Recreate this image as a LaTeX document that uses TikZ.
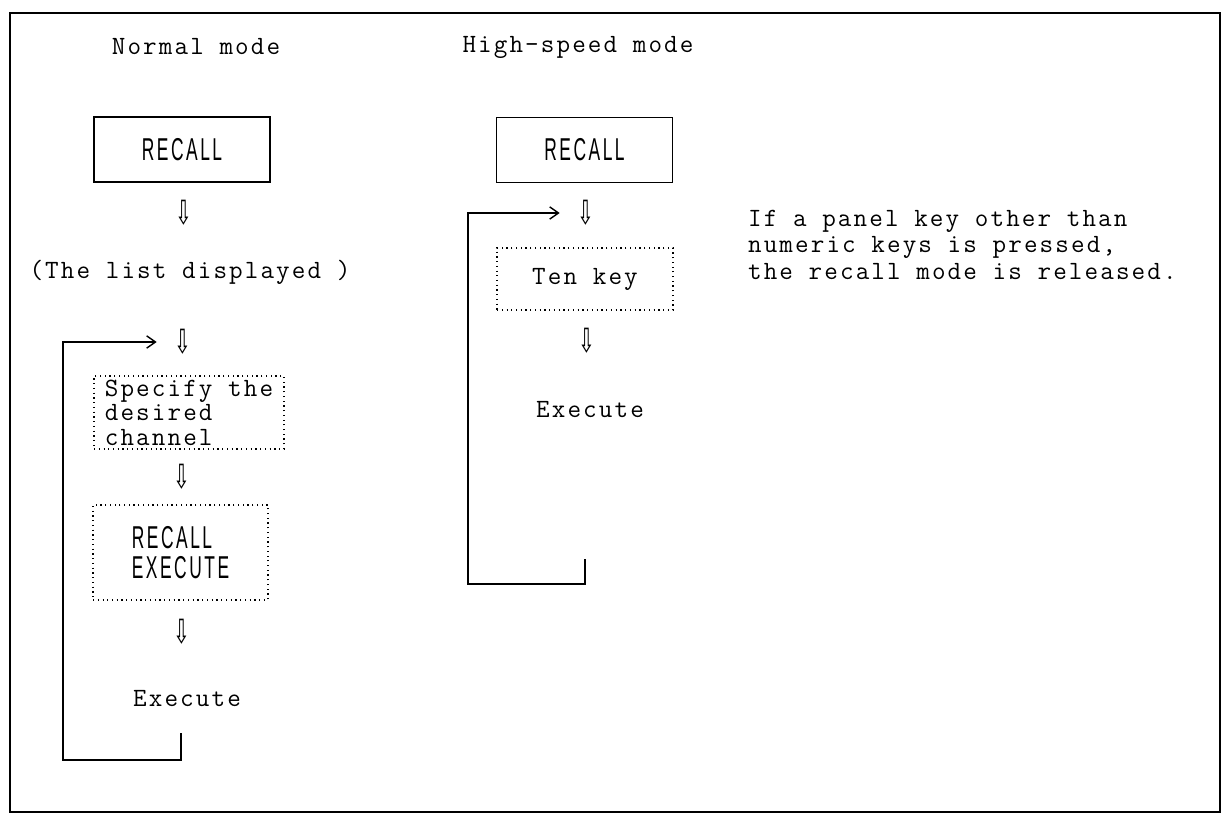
\documentclass[tikz,border=0pt]{standalone}
\usepackage{fontspec}
\newfontfamily\typefont[LetterSpace=8]{Latin Modern Mono}
\newfontfamily\keyfont[FakeStretch=0.55, LetterSpace=8]{Liberation Sans}
\newfontfamily\symfont[FakeStretch=0.6]{DejaVu Sans}
\usetikzlibrary{positioning, arrows.meta}
\begin{document}
\begin{tikzpicture}[x=0.02cm, y=-0.02cm, >={Straight Barb[length=5pt, width=7pt]},
          txt/.style={font=\typefont\fontsize{15}{15}\selectfont, inner sep=1pt},
          keybox/.style={draw, line width=0.6pt, minimum width=3.52cm, minimum height=1.3cm, font=\keyfont\fontsize{18}{20}\selectfont},
          dotbox/.style={draw, dotted, line width=0.7pt, align=left, inner sep=2pt},
          dn/.style={font=\symfont\fontsize{19}{19}\selectfont, inner sep=1pt},
          loopline/.style={->, line width=0.8pt, shorten >=9pt}]
        \useasboundingbox (0,0) rectangle (1228,814);
        \draw[line width=1pt] (10,13) rectangle (1220,812);
        % normal mode
        \node[txt] (hn) at (196,47) {Normal mode};
        \node[keybox] (rc1) at (182,149.5) {RECALL};
        \node[dn] (ar1) at (184,213) {⇩};
        \node[txt] (lst) at (190,272) {(The list displayed )};
        \node[dotbox, txt, minimum width=3.8cm, minimum height=1.46cm, font=\typefont\fontsize{15}{14}\selectfont] (spc) at (189,412.5) {Specify the\\desired\\channel};
        \node[dn] (ar2) at (183,342) {⇩};
        \node[dn] (ar3) at (182,477) {⇩};
        \node[dotbox, minimum width=3.5cm, minimum height=1.9cm, font=\keyfont\fontsize{18}{17}\selectfont] (rex) at (180.5,552.5) {RECALL\\EXECUTE};
        \node[dn] (ar4) at (182,632) {⇩};
        \node[txt] (ex1) at (187,699) {Execute};
        \coordinate (lp1) at (181,733);
        \coordinate (c1) at (63,760);
        \draw[loopline] (lp1) |- (c1) |- (ar2.west);
        % high-speed mode
        \node[txt] (hh) at (578,47) {High-speed mode};
        \node[keybox] (rc2) at (584.5,150) {RECALL};
        \node[dn] (ar5) at (586,213) {⇩};
        \node[dotbox, txt, minimum width=3.52cm, minimum height=1.24cm] (ten) at (585,279) {Ten key};
        \node[dn] (ar6) at (587,341) {⇩};
        \node[txt] (ex2) at (590,410) {Execute};
        \coordinate (lp2) at (585,559);
        \coordinate (c2) at (468,584);
        \draw[loopline] (lp2) |- (c2) |- (ar5.west);
        % note
        \node[txt, anchor=north west, align=left] (nt) at (746,208) {If a panel key other than\\numeric keys is pressed,\\the recall mode is released.};
      \end{tikzpicture}
\end{document}
